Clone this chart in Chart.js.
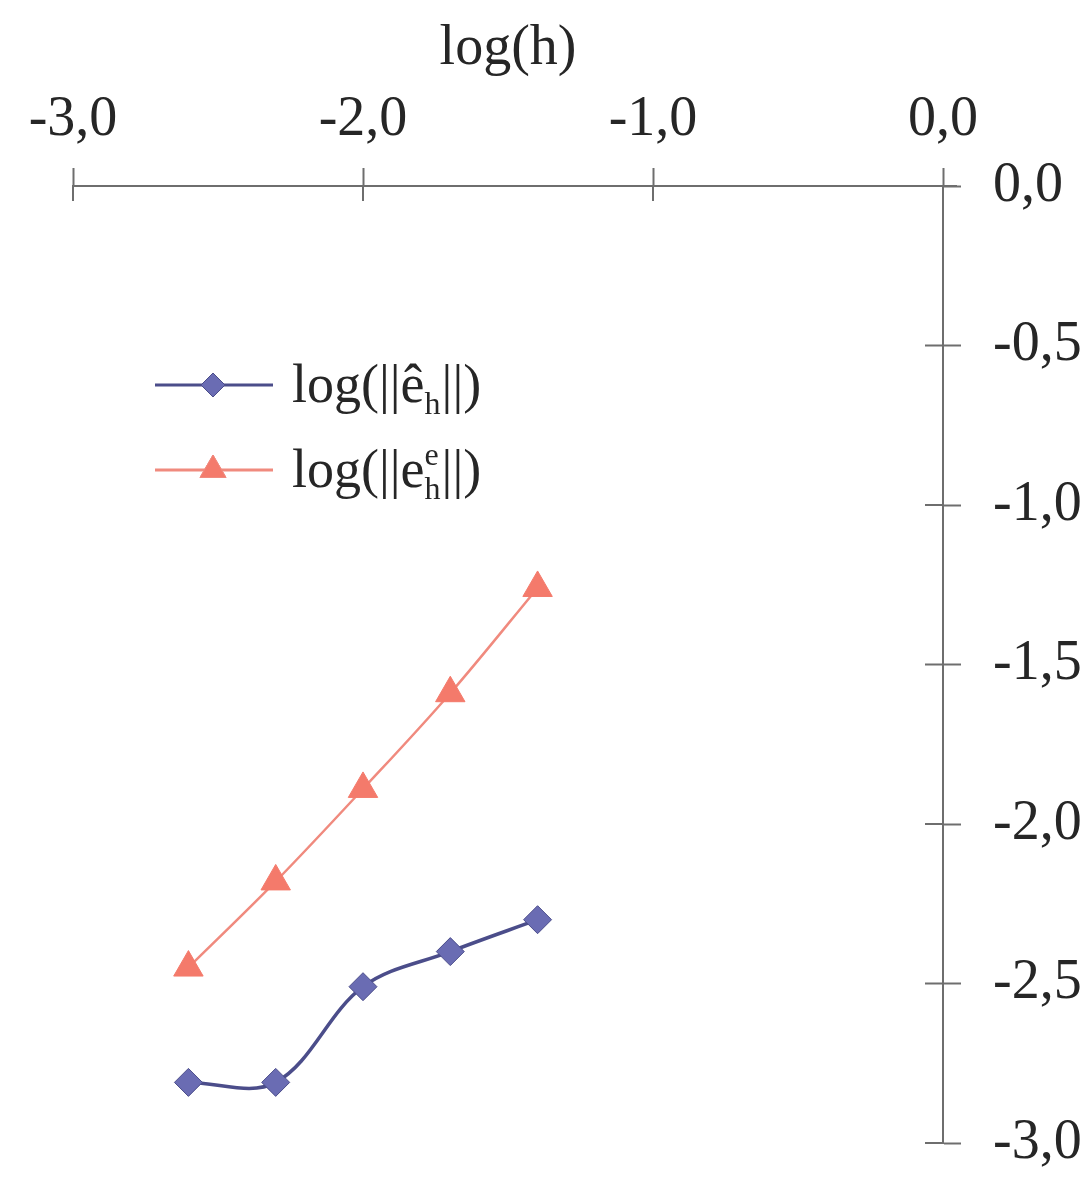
<!DOCTYPE html>
<html>
<head>
<meta charset="utf-8">
<script src="https://cdn.jsdelivr.net/npm/chart.js@4.4.1/dist/chart.umd.min.js"></script>
<style>
  body { margin: 0; background: #fff; }
  #wrap { width: 1086px; height: 1187px; position: relative; }
</style>
</head>
<body>
<div id="wrap"><canvas id="mycanvas"></canvas></div>
<script>
// data
var logH = [-2.602, -2.301, -2.0, -1.699, -1.398];
var errHat = [-2.81, -2.81, -2.51, -2.40, -2.30];
var errE = [-2.45, -2.18, -1.89, -1.59, -1.26];
var xTicks = [-3, -2, -1, 0];
var yTicks = [0, -0.5, -1, -1.5, -2, -2.5, -3];

var blueLine = "#4b4d8a", blueFill = "#6a6cb3";
var redLine = "#f08a7e", redFill = "#f47a6b";
var axisCol = "#6e6e6e", textCol = "#262626";
var serif = "'Liberation Serif', 'DejaVu Serif', serif";

function fmt(v) {
	if (Math.abs(v) < 1e-9) return "0,0";
	return v.toFixed(1).replace(".", ",");
}

function pts(ys) {
	var out = [];
	for (var i in logH) out.push({ x: logH[i], y: ys[i] });
	return out;
}

// inner half of the crossing tick marks
var crossTicks = {
	id: "crossTicks",
	afterDatasetsDraw: function(chart) {
		var ctx = chart.ctx, xs = chart.scales.x, ys = chart.scales.y;
		ctx.save();
		ctx.strokeStyle = axisCol;
		ctx.lineWidth = 2;
		ctx.beginPath();
		xTicks.forEach(function(v) {
			var px = xs.getPixelForValue(v);
			ctx.moveTo(px, xs.bottom);
			ctx.lineTo(px, xs.bottom + 15);
		});
		yTicks.forEach(function(v) {
			var py = ys.getPixelForValue(v);
			ctx.moveTo(ys.left, py);
			ctx.lineTo(ys.left - 18, py);
		});
		ctx.moveTo(xs.right, xs.bottom);
		ctx.lineTo(xs.right + 14, xs.bottom);
		ctx.stroke();
		ctx.restore();
	}
};

// legend with line + marker and sub/superscripts
var legendBox = {
	id: "legendBox",
	afterDraw: function(chart) {
		var ctx = chart.ctx;
		var rows = [
			{ y: 385, line: blueLine, fill: blueFill, style: "rectRot", r: 12, base: "log(||ê", sup: null, sub: "h" },
			{ y: 470, line: redLine, fill: redFill, style: "triangle", r: 15, base: "log(||e", sup: "e", sub: "h" }
		];
		ctx.save();
		rows.forEach(function(row) {
			ctx.strokeStyle = row.line;
			ctx.lineWidth = 3;
			ctx.beginPath();
			ctx.moveTo(155, row.y);
			ctx.lineTo(273, row.y);
			ctx.stroke();
			ctx.fillStyle = row.fill;
			ctx.lineWidth = 1;
			Chart.helpers.drawPoint(ctx, { pointStyle: row.style, radius: row.r, rotation: 0, borderWidth: 1 }, 213, row.y);
			ctx.fill();
			ctx.stroke();

			var x = 292, base = row.y + 17;
			ctx.fillStyle = textCol;
			ctx.textBaseline = "alphabetic";
			ctx.textAlign = "left";
			ctx.font = "54px " + serif;
			ctx.fillText(row.base, x, base);
			x += ctx.measureText(row.base).width;
			ctx.font = "32px " + serif;
			var w = ctx.measureText(row.sub).width;
			ctx.fillText(row.sub, x, base + 12);
			if (row.sup) {
				ctx.fillText(row.sup, x, base - 22);
				w = Math.max(w, ctx.measureText(row.sup).width);
			}
			x += w + 1;
			ctx.font = "54px " + serif;
			ctx.fillText("||)", x, base);
		});
		ctx.restore();
	}
};

var chartdata = {
	datasets: [
		{
			label: "log(||ê_h||)",
			data: pts(errHat),
			borderColor: blueLine,
			backgroundColor: blueFill,
			pointBackgroundColor: blueFill,
			pointBorderColor: blueLine,
			pointStyle: "rectRot",
			pointRadius: 14,
			pointBorderWidth: 1,
			borderWidth: 3.5,
			tension: 0.35,
			fill: false
		},
		{
			label: "log(||e_h^e||)",
			data: pts(errE),
			borderColor: redLine,
			backgroundColor: redFill,
			pointBackgroundColor: redFill,
			pointBorderColor: redFill,
			pointStyle: "triangle",
			pointRadius: 17,
			pointBorderWidth: 1,
			borderWidth: 2.5,
			tension: 0.35,
			fill: false
		}
	]
};

var ctx = document.getElementById("mycanvas");

var LineGraph = new Chart(ctx, {
	type: "line",
	data: chartdata,
	plugins: [crossTicks, legendBox],
	options: {
		responsive: true,
		maintainAspectRatio: false,
		animation: false,
		layout: { padding: { left: 73, right: 0, top: 16, bottom: 44 } },
		plugins: { legend: { display: false }, tooltip: { enabled: false } },
		scales: {
			x: {
				type: "linear",
				position: "top",
				min: -3,
				max: 0,
				afterFit: function(scale) { scale.height = 170; },
				afterBuildTicks: function(scale) {
					scale.ticks = xTicks.map(function(v) { return { value: v }; });
				},
				grid: { drawOnChartArea: false, drawTicks: true, tickLength: 18, tickColor: axisCol, tickWidth: 2 },
				border: { display: true, color: axisCol, width: 2 },
				ticks: {
					autoSkip: false,
					maxRotation: 0,
					padding: 14,
					color: textCol,
					font: { family: serif, size: 56 },
					callback: function(v) { return fmt(v); }
				},
				title: {
					display: true,
					text: "log(h)",
					color: textCol,
					padding: 0,
					font: { family: serif, size: 56 }
				}
			},
			y: {
				type: "linear",
				position: "right",
				min: -3,
				max: 0,
				afterFit: function(scale) {
					scale.width = 143;
					scale.paddingTop = 0;
					scale.paddingBottom = 0;
				},
				afterBuildTicks: function(scale) {
					scale.ticks = yTicks.map(function(v) { return { value: v }; });
				},
				grid: { drawOnChartArea: false, drawTicks: true, tickLength: 18, tickColor: axisCol, tickWidth: 2 },
				border: { display: true, color: axisCol, width: 2 },
				ticks: {
					autoSkip: false,
					padding: 32,
					color: textCol,
					font: { family: serif, size: 56, lineHeight: 0.5 },
					callback: function(v) { return fmt(v); }
				}
			}
		}
	}
});
</script>
</body>
</html>
